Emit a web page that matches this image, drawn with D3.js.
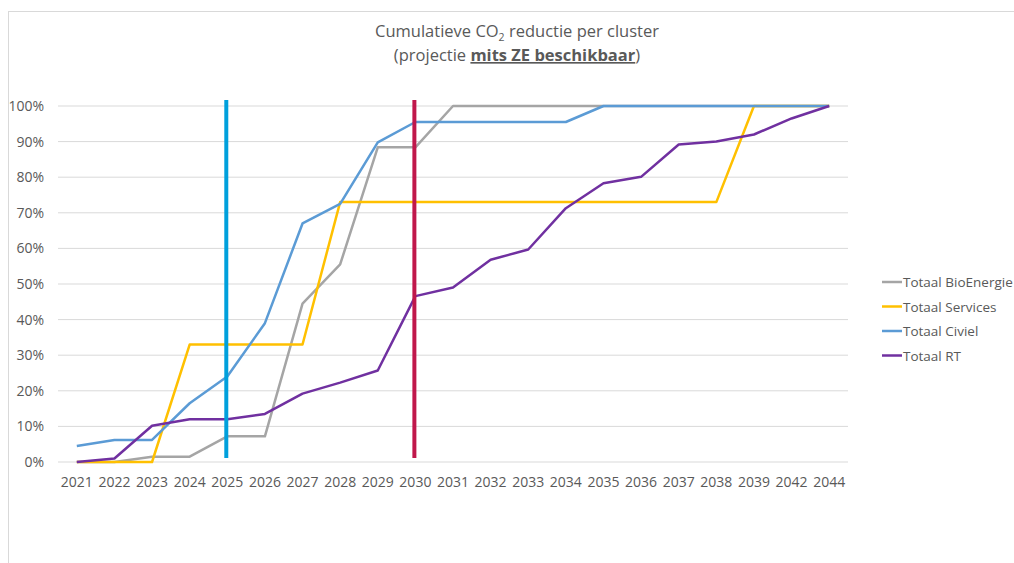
<!DOCTYPE html>
<html><head><meta charset="utf-8">
<script src="https://cdn.jsdelivr.net/npm/d3@7"></script>
<style>html,body{margin:0;padding:0;background:#fff;overflow:hidden}</style>
</head><body>
<svg id="c" width="1014" height="563"></svg>
<script>
const years = ["2021","2022","2023","2024","2025","2026","2027","2028","2029","2030","2031","2032","2033","2034","2035","2036","2037","2038","2039","2042","2044"];
const bioEnergie = [0,0,1.5,1.5,7.2,7.2,44.5,55.5,88.4,88.4,100,100,100,100,100,100,100,100,100,100,100];
const services = [0,0,0,33,33,33,33,73,73,73,73,73,73,73,73,73,73,73,100,100,100];
const civiel = [4.5,6.2,6.2,16.5,24,39,67,72.5,89.8,95.5,95.5,95.5,95.5,95.5,100,100,100,100,100,100,100];
const rt = [0,1,10.2,12,12,13.5,19.2,22.3,25.7,46.6,49,56.8,59.7,71.3,78.3,80.1,89.2,90,92,96.5,100];
const yTicks = [0,10,20,30,40,50,60,70,80,90,100];
const seriesNames = ["Totaal BioEnergie","Totaal Services","Totaal Civiel","Totaal RT"];
const markerYears = ["2025","2030"];

const colors = ["#a5a5a5","#ffc000","#5b9bd5","#7030a0"];
const markerColors = ["#00a0dc","#c0174b"];
const font = "'Open Sans', sans-serif";
const svg = d3.select("#c");

svg.append("rect").attr("x",8.5).attr("y",11.5).attr("width",1020).attr("height",570)
  .attr("fill","#fff").attr("stroke","#d9d9d9");

const x = d3.scaleBand().domain(years).range([58,848]);
const y = d3.scaleLinear().domain([0,100]).range([462,106]);
const cx = d => x(d) + x.bandwidth()/2;

// grid
svg.append("g").selectAll("line").data(yTicks).join("line")
  .attr("x1",58).attr("x2",848).attr("y1",d=>y(d)).attr("y2",d=>y(d))
  .attr("stroke","#d9d9d9").attr("stroke-width",1);

// y axis labels
const yAxis = svg.append("g").attr("transform","translate(58,0)")
  .call(d3.axisLeft(y).tickValues(yTicks).tickFormat(d=>d+"%").tickSize(0).tickPadding(14));
yAxis.select(".domain").remove();
yAxis.selectAll("text").attr("font-family",font).attr("font-size",14).attr("fill","#595959");

// x axis labels
const xAxis = svg.append("g").attr("transform","translate(0,462)")
  .call(d3.axisBottom(x).tickSize(0).tickPadding(15));
xAxis.select(".domain").remove();
xAxis.selectAll("text").attr("font-family",font).attr("font-size",14).attr("fill","#595959");

// series
const allSeries = [bioEnergie, services, civiel, rt];
const line = d3.line().x((d,i)=>cx(years[i])).y(d=>y(d));
allSeries.forEach((s,k)=>{
  svg.append("path").datum(s).attr("d",line).attr("fill","none")
    .attr("stroke",colors[k]).attr("stroke-width",2.5).attr("stroke-linejoin","round");
});

// vertical marker lines
markerYears.forEach((yr,k)=>{
  svg.append("line").attr("x1",cx(yr)-1).attr("x2",cx(yr)-1).attr("y1",100).attr("y2",458)
    .attr("stroke",markerColors[k]).attr("stroke-width",4);
});

// title
const t = svg.append("text").attr("x",517).attr("y",37).attr("text-anchor","middle")
  .attr("font-family",font).attr("font-size",16.5).attr("fill","#595959");
t.append("tspan").text("Cumulatieve CO");
t.append("tspan").text("2").attr("font-size",10.5).attr("dy",4);
t.append("tspan").text(" reductie per cluster").attr("dy",-4);
const t2 = svg.append("text").attr("x",517).attr("y",61).attr("text-anchor","middle")
  .attr("font-family",font).attr("font-size",16.5).attr("fill","#595959");
t2.append("tspan").text("(projectie ");
t2.append("tspan").text("mits ZE beschikbaar").attr("font-weight","bold").attr("text-decoration","underline");
t2.append("tspan").text(")");

// legend
const lg = svg.append("g");
seriesNames.forEach((n,k)=>{
  const ly = 282 + k*24.5;
  lg.append("line").attr("x1",882).attr("x2",902).attr("y1",ly).attr("y2",ly)
    .attr("stroke",colors[k]).attr("stroke-width",2.5);
  lg.append("text").attr("x",903).attr("y",ly+5).text(n)
    .attr("font-family",font).attr("font-size",13.5).attr("fill","#595959");
});
</script>
</body></html>
